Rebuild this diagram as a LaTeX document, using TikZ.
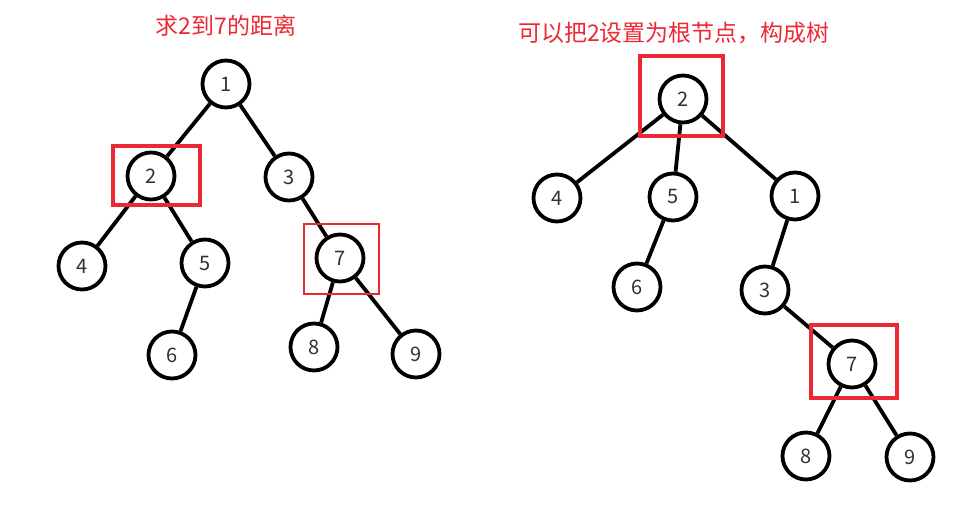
\documentclass[tikz,border=0pt]{standalone}
\usepackage{fontspec}
\setmainfont{Noto Sans CJK SC}
\usepackage{tikz}
\usetikzlibrary{positioning, calc}
\definecolor{markred}{RGB}{236,40,52}
\definecolor{numgray}{RGB}{50,50,50}

\begin{document}
\begin{tikzpicture}[x=1pt, y=-1pt,
        vert/.style={circle, draw, line width=3.8pt, minimum size=47pt, inner sep=0pt, fill=white, text=numgray, font=\fontsize{20}{20}\selectfont},
        edge/.style={line width=3.8pt},
        markbox/.style={draw=markred, line width=3.8pt},
        title/.style={text=markred, font=\fontsize{23}{23}\selectfont}]
        \useasboundingbox (0,0) rectangle (969,505);

        % Left tree
        \node (T1) [title] at (226,26) {求2到7的距离};
        \node (A1) [vert] at (226,84) {1};
        \node (A2) [vert] at (151,176) {2};
        \node (A3) [vert] at (289,177) {3};
        \node (A4) [vert] at (82,266) {4};
        \node (A5) [vert] at (205,263) {5};
        \node (A7) [vert] at (340,258) {7};
        \node (A6) [vert] at (172,355) {6};
        \node (A8) [vert] at (314,347) {8};
        \node (A9) [vert] at (416,354) {9};

        \draw[edge] (A1) -- (A2);
        \draw[edge] (A1) -- (A3);
        \draw[edge] (A2) -- (A4);
        \draw[edge] (A2) -- (A5);
        \draw[edge] (A5) -- (A6);
        \draw[edge] (A3) -- (A7);
        \draw[edge] (A7) -- (A8);
        \draw[edge] (A7) -- (A9);

        % Right tree (2 as root)
        \node (T2) [title] at (674,33) {可以把2设置为根节点，构成树};
        \node (B2) [vert] at (683,99) {2};
        \node (B4) [vert] at (557,198) {4};
        \node (B5) [vert] at (673,197) {5};
        \node (B1) [vert] at (795,196) {1};
        \node (B6) [vert] at (637,287) {6};
        \node (B3) [vert] at (765,290) {3};
        \node (B7) [vert] at (852,364) {7};
        \node (B8) [vert] at (806,456) {8};
        \node (B9) [vert] at (910,457) {9};

        \draw[edge] (B2) -- (B4);
        \draw[edge] (B2) -- (B5);
        \draw[edge] (B2) -- (B1);
        \draw[edge] (B5) -- (B6);
        \draw[edge] (B1) -- (B3);
        \draw[edge] (B3) -- (B7);
        \draw[edge] (B7) -- (B8);
        \draw[edge] (B7) -- (B9);

        % Marks
        \draw[markbox] ($(A2)+(-38,-30)$) rectangle ($(A2)+(49,29)$);
        \draw[markbox, line width=2pt] ($(A7)+(-36,-34)$) rectangle ($(A7)+(39,36)$);
        \draw[markbox] ($(B2)+(-43,-43)$) rectangle ($(B2)+(40,37)$);
        \draw[markbox] ($(B7)+(-41,-39)$) rectangle ($(B7)+(45,34)$);
\end{tikzpicture}
\end{document}
